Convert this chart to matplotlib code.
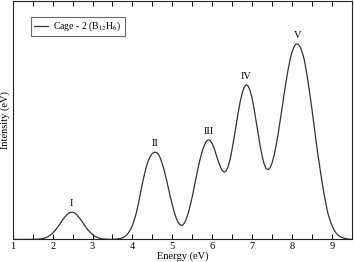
import numpy as np
import matplotlib
matplotlib.use("Agg")
import matplotlib.pyplot as plt
from matplotlib.ticker import MultipleLocator

# Energier (eV), 0.05 eV mellomrom
energi = np.linspace(1.0, 9.5, 171)

# Intensitet (vilkaarlige enheter), en rad per 0.5 eV
intensitet = [
    0, 0, 0, 0, 0, 0, 0, 0, 0, 0,
    0.06, 0.1, 0.2, 0.34, 0.6, 0.9, 1.4, 2.2, 3.2, 4.6,
    6.3, 8.4, 10.9, 13.6, 16.6, 19.5, 22.2, 24.5, 26.2, 27.1,
    27.3, 26.5, 24.9, 22.7, 20.1, 17.2, 14.2, 11.4, 8.9, 6.7,
    4.9, 3.4, 2.4, 1.6, 1.0, 0.6, 0.4, 0.25, 0.2, 0.1,
    0.1, 0.2, 0.4, 0.7, 1.0, 1.7, 2.7, 4.2, 6.5, 9.8,
    14, 20, 27, 36, 46, 56, 65, 73, 79, 83.5,
    86, 87.2, 87.1, 85.2, 81.3, 75.6, 68.5, 60.3, 51.5, 42.7,
    34.5, 27.1, 21, 16.7, 14.4, 14.1, 16.2, 20.4, 26.5, 34.3,
    43, 52.9, 63, 72.3, 81, 88.4, 94, 98.1, 99.6, 98.9,
    95.8, 90.9, 84.8, 78.5, 73, 69, 67.4, 68.4, 73, 80.6,
    90.6, 102.3, 114.7, 126.7, 137.7, 146.4, 152.2, 154.7, 153.5, 148.8,
    141, 130.5, 118.5, 105.9, 93.8, 83.6, 75.6, 70.9, 69.8, 71.8,
    76.6, 84, 93.7, 105.2, 118, 131.3, 145, 157.7, 169.6, 179.6,
    187.6, 192.8, 195.5, 195.2, 193, 188, 181, 170.5, 158, 144.5,
    130, 114.5, 99, 84.5, 71, 58, 46, 35.5, 26, 19.5,
    14, 9.8, 6.5, 4.5, 3, 2, 1.3, 0.8, 0.4, 0.2,
    0.1,
]

# Topp-merker
topp_navn = ["I", "II", "III", "IV", "V"]
topp_x = [2.48, 4.57, 5.92, 6.86, 8.13]
topp_y = [27.3, 87.3, 99.7, 154.7, 195.7]

plt.rcParams["font.family"] = ["Liberation Serif", "DejaVu Serif"]
plt.rcParams["mathtext.fontset"] = "stix"

fig = plt.figure(figsize=(3.54, 2.62), dpi=100)
ax = fig.add_axes([0.036, 0.086, 0.958, 0.91])

ax.plot(energi, intensitet, color="#333333", linewidth=0.9, label="Cage - 2 (B$_{12}$H$_6$)")

for navn, x, y in zip(topp_navn, topp_x, topp_y):
    ax.text(x, y + 4, navn, ha="center", va="bottom", fontsize=7.5)

ax.set_xlim(1, 9.5)
ax.set_ylim(0, 238.5)
ax.xaxis.set_major_locator(MultipleLocator(1))
ax.xaxis.set_minor_locator(MultipleLocator(0.5))
ax.set_yticks([])
ax.tick_params(axis="x", which="both", direction="in", top=True, length=3.5, width=0.7,
               labelsize=7.5, pad=2)
for s in ax.spines.values():
    s.set_linewidth(0.8)
    s.set_color("#222222")

ax.set_xlabel("Energy (eV)", fontsize=7.5, labelpad=0)
ax.set_ylabel("Intensity (eV)", fontsize=7.5, labelpad=2)

leg = ax.legend(loc="upper left", bbox_to_anchor=(0.054, 0.933), borderaxespad=0,
                fontsize=7, frameon=True, fancybox=False, edgecolor="#444444",
                handlelength=1.4, borderpad=0.3, handletextpad=0.6)
leg.get_frame().set_linewidth(0.8)

fig.savefig("out.png", dpi=100)
